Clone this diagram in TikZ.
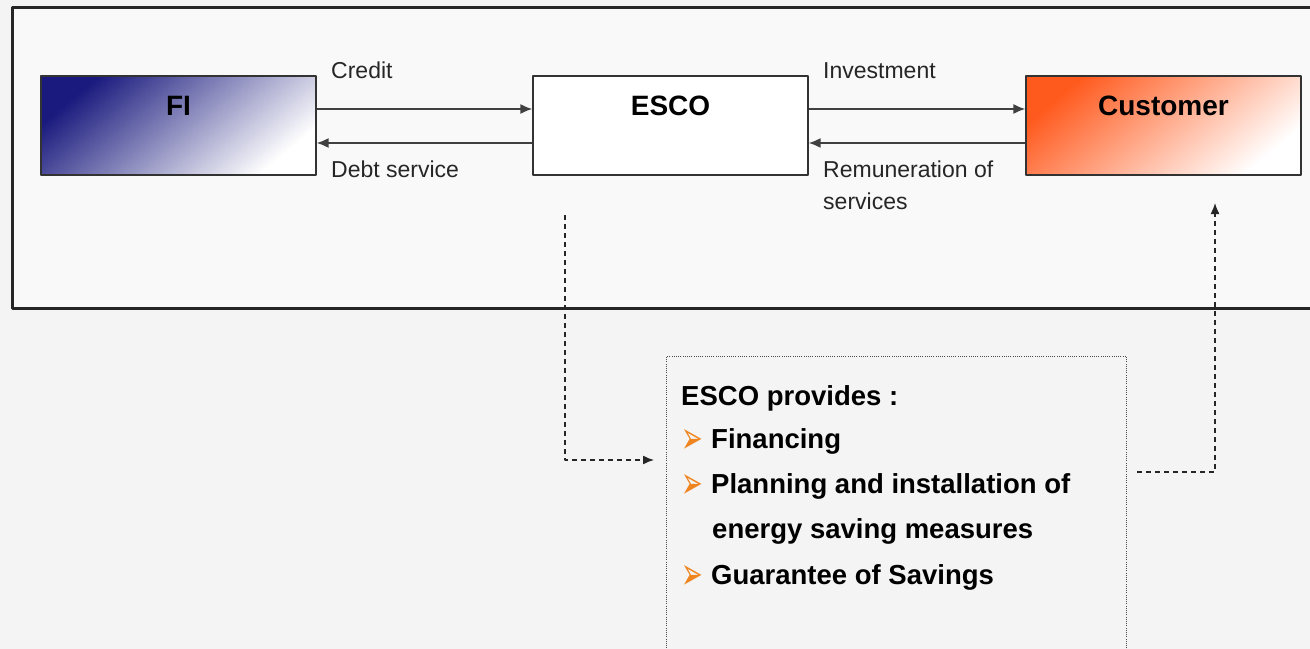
\documentclass[tikz,border=0pt]{standalone}
\usepackage{fontspec}
\setmainfont{Liberation Sans}
\newfontfamily\symfont{DejaVu Sans}
\usetikzlibrary{arrows.meta,positioning}
\definecolor{pagebg}{HTML}{F4F4F4}
\definecolor{framebg}{HTML}{F9F9F9}
\definecolor{navy}{HTML}{1A1A7E}
\definecolor{custred}{HTML}{FF5A1E}
\definecolor{bulletor}{HTML}{F0841E}
\tikzset{
  party/.style={draw=black!80, line width=1.2bp, minimum width=275bp, inner sep=0pt,
    text height=40bp, text depth=59bp, font=\fontsize{28bp}{32bp}\selectfont\bfseries},
  flow/.style={-{Latex[length=12bp,width=10bp]}, line width=1.8bp, draw=black!75},
  lbl/.style={anchor=base west, inner sep=0pt, font=\fontsize{23bp}{27bp}\selectfont, text=black!85},
  link/.style={-{Latex[length=11bp,width=9bp]}, dash pattern=on 5bp off 4bp, line width=1.4bp, draw=black!85},
  item/.style={anchor=base west, inner sep=0pt, font=\fontsize{27.5bp}{32bp}\selectfont\bfseries},
  bul/.style={anchor=base west, inner sep=0pt, text=bulletor, transform shape, xscale=0.72, yscale=1.25,
    font=\symfont\fontsize{36bp}{38bp}\selectfont},
}
\begin{document}
\begin{tikzpicture}[x=1bp, y=-1bp, line join=round]
  \useasboundingbox (0,0) rectangle (1310,649);
  \fill[pagebg] (0,0) rectangle (1310,649);
  % upper frame
  \draw[line width=3bp, draw=black!85, fill=framebg] (12,8) rectangle (1330,308);

  % the three parties
  \node[party, top color=navy, bottom color=white, shading angle=40] (fi) at (178.5,125.5) {FI};
  \node[party, fill=white] (esco) at (670.5,125.5) {ESCO};
  \node[party, top color=custred, bottom color=white, shading angle=40] (cust) at (1163.5,125.5) {Customer};

  \draw[flow] ([yshift=16.5bp]fi.east) -- ([yshift=16.5bp]esco.west);
  \draw[flow] ([yshift=-17.5bp]esco.west) -- ([yshift=-17.5bp]fi.east);
  \draw[flow] ([yshift=16.5bp]esco.east) -- ([yshift=16.5bp]cust.west);
  \draw[flow] ([yshift=-17.5bp]cust.west) -- ([yshift=-17.5bp]esco.east);

  \node[lbl] (credit) at (331,79) {Credit};
  \node[lbl] (debt) at (331,177) {Debt service};
  \node[lbl] (invest) at (823,79) {Investment};
  \node[lbl] (remun) at (823,177) {Remuneration of};
  \node[lbl] (serv) at (823,209) {services};

  % what the ESCO provides
  \node[draw=black!70, dash pattern=on 1bp off 1.2bp, line width=1bp, fill=pagebg,
    minimum width=460bp, minimum height=340bp, anchor=north west, inner sep=0pt] (prov) at (666,356) {};
  \node[item] (title) at (681,405) {ESCO provides :};
  \foreach \t/\y [count=\i] in {Financing/448, Planning and installation of/493, Guarantee of Savings/584}{
    \node[bul] (bul\i) at (681,\y+5) {➢};
    \node[item] (item\i) at (711,\y) {\t};
  }
  \node[item] (item4) at (712,538) {energy saving measures};

  \coordinate (escdrop) at (565,215);
  \coordinate (provin) at (654,460);
  \coordinate (provout) at (1137,472);
  \coordinate (custin) at (1215,203);
  \draw[link] (escdrop) |- (provin);
  \draw[link] (provout) -| (custin);
\end{tikzpicture}
\end{document}
